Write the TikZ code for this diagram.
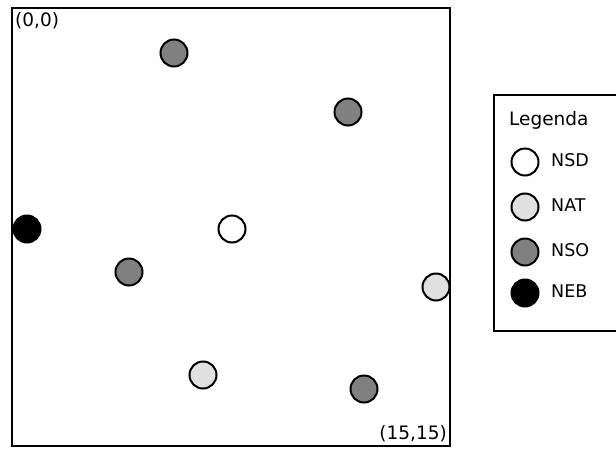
\documentclass[tikz,border=0pt]{standalone}
\usepackage{fontspec}
\setmainfont{DejaVu Sans}
\usepackage{tikz}
\usetikzlibrary{calc}

\definecolor{nsdcol}{gray}{1.0}
\definecolor{natcol}{gray}{0.88}
\definecolor{nsocol}{gray}{0.5}
\definecolor{nebcol}{gray}{0.0}

\tikzset{
  sensor/.style={circle, draw=black, line width=2pt, minimum size=27pt, inner sep=0pt},
  lbl/.style={font=\fontsize{18.5}{21}\selectfont, inner sep=0pt},
}

\begin{document}
\begin{tikzpicture}[x=1pt, y=-1pt]
  \def\W{616}
  \def\H{448}

  \useasboundingbox (0,0) rectangle (\W,\H);
  \clip (0,0) rectangle (\W,\H);

  % Field (square area)
  \draw[line width=2.5pt] (12,8) rectangle (450,446);
  \node[lbl, anchor=north west] (orig) at (15,12) {(0,0)};
  \node[lbl, anchor=south east] (corner) at (447,442) {(15,15)};

  % Nodes in the field
  \foreach \px/\py/\col [count=\i] in {
      174/53/nsocol, 348/112/nsocol, 27/229/nebcol, 232/229/nsdcol,
      129/272/nsocol, 436/287/natcol, 203/375/natcol, 364/389/nsocol} {
    \node[sensor, fill=\col] (n\i) at (\px,\py) {};
  }

  % Legend
  \draw[line width=2.5pt] (494,95) rectangle (630,331);
  \node[lbl, anchor=west] (leg) at (509,120) {Legenda};
  \foreach \ly/\col/\txt in {162/nsdcol/NSD, 207/natcol/NAT, 252/nsocol/NSO, 293/nebcol/NEB} {
    \node[sensor, fill=\col] (k\txt) at (525,\ly) {};
    \node[lbl, anchor=west, font=\fontsize{17.5}{20}\selectfont] (t\txt) at (551,\ly-2) {\txt};
  }
\end{tikzpicture}
\end{document}
